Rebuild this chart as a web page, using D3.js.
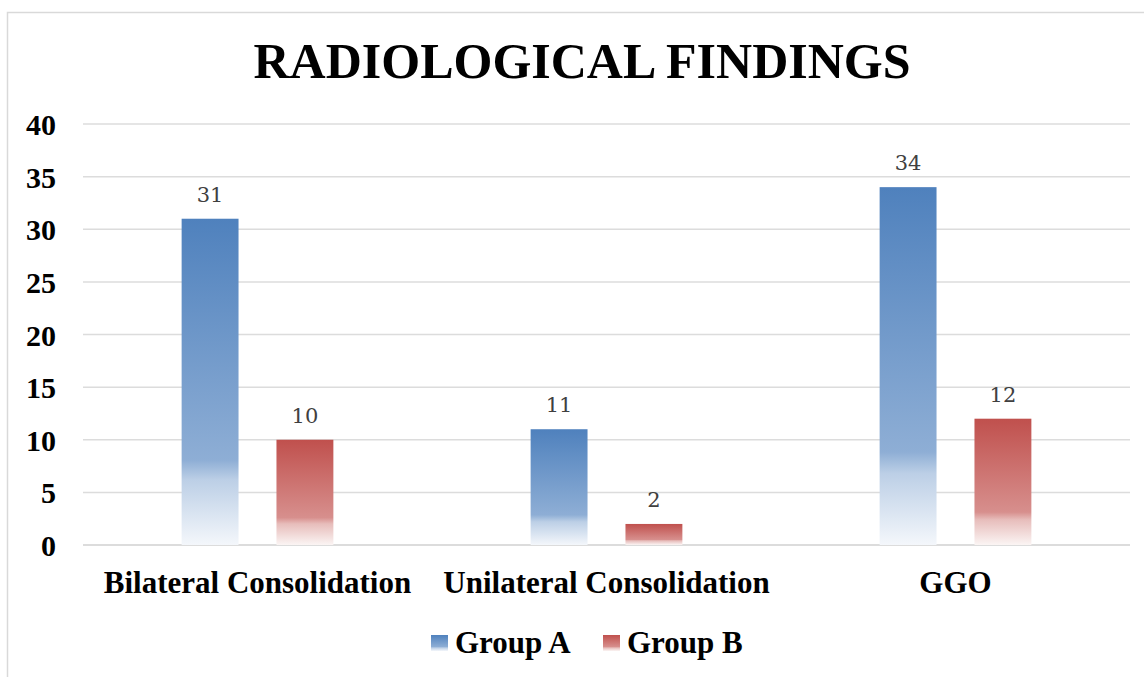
<!DOCTYPE html>
<html>
<head>
<meta charset="utf-8">
<script src="https://cdn.jsdelivr.net/npm/d3@7"></script>
<style>
  body { margin: 0; background: #fff; }
  svg { display: block; }
</style>
</head>
<body>
<svg id="chart" width="1144" height="677"></svg>
<script>
const categories = ['Bilateral Consolidation', 'Unilateral Consolidation', 'GGO']
const seriesNames = ['Group A', 'Group B']
const groupA = [31, 11, 34]
const groupB = [10, 2, 12]
const yTicks = [0, 5, 10, 15, 20, 25, 30, 35, 40]
const colors = ['#4f81bd', '#c0504d']

const width = 1144
const height = 677
const margin = { left: 83, right: 14, top: 124, bottom: 132 }

const svg = d3.select('#chart')

// gradients, one per series (fade to white at the bottom of each bar)
const defs = svg.append('defs')
const stopsFor = (c) => {
    const toWhite = d3.interpolateRgb(c, '#ffffff')
    return [
        { o: '0%', c: d3.color(c).formatHex() },
        { o: '74%', c: toWhite(0.36) },
        { o: '80%', c: toWhite(0.62) },
        { o: '100%', c: toWhite(0.94) }
    ]
}
colors.forEach((c, i) => {
    const g = defs.append('linearGradient').attr('id', 'grad' + i)
        .attr('x1', 0).attr('y1', 0).attr('x2', 0).attr('y2', 1)
    g.selectAll('stop').data(stopsFor(c)).enter().append('stop')
        .attr('offset', d => d.o).attr('stop-color', d => d.c)
})

// outer chart frame
svg.append('rect').attr('x', 7.5).attr('y', 12.5).attr('width', width + 20).attr('height', height + 20)
    .attr('fill', 'none').attr('stroke', '#d9d9d9').attr('stroke-width', 1.5)

svg.append('text').text('RADIOLOGICAL FINDINGS')
    .attr('x', 582).attr('y', 78).attr('text-anchor', 'middle')
    .attr('font-family', 'Liberation Serif').attr('font-weight', 'bold').attr('font-size', 50)

const x = d3.scaleBand().domain(categories).range([margin.left, width - margin.right])
const xInner = d3.scaleBand().domain(seriesNames).range([0, x.bandwidth()]).paddingInner(0.4).paddingOuter(1.04)
const y = d3.scaleLinear().domain([0, 40]).range([height - margin.bottom, margin.top])

// gridlines
svg.append('g').selectAll('line').data(yTicks).enter().append('line')
    .attr('x1', margin.left).attr('x2', width - margin.right)
    .attr('y1', d => y(d)).attr('y2', d => y(d))
    .attr('stroke', d => d === 0 ? '#d0d0d0' : '#dcdcdc').attr('stroke-width', 1.5)

// y axis labels
const yAxis = svg.append('g').attr('transform', `translate(${margin.left - 27},0)`)
    .call(d3.axisLeft(y).tickValues(yTicks).tickSize(0).tickPadding(0))
yAxis.select('.domain').remove()
yAxis.selectAll('text').attr('font-family', 'Liberation Serif').attr('font-weight', 'bold')
    .attr('font-size', 30).attr('fill', '#000').attr('dy', '0.35em')

// category labels
const xAxis = svg.append('g').attr('transform', `translate(0,${height - margin.bottom})`)
    .call(d3.axisBottom(x).tickSize(0).tickPadding(26))
xAxis.select('.domain').remove()
xAxis.selectAll('text').attr('font-family', 'Liberation Serif').attr('font-weight', 'bold')
    .attr('font-size', 31).attr('fill', '#000')

// bars
const rows = categories.map((c, i) => ({ cat: c, vals: [groupA[i], groupB[i]] }))
const groups = svg.append('g').selectAll('g').data(rows).enter().append('g')
    .attr('transform', d => `translate(${x(d.cat)},0)`)
groups.selectAll('rect').data(d => d.vals.map((v, i) => ({ s: seriesNames[i], v, i }))).enter().append('rect')
    .attr('x', d => xInner(d.s)).attr('width', xInner.bandwidth())
    .attr('y', d => y(d.v)).attr('height', d => y(0) - y(d.v))
    .attr('fill', d => `url(#grad${d.i})`)
groups.selectAll('text').data(d => d.vals.map((v, i) => ({ s: seriesNames[i], v }))).enter().append('text')
    .text(d => d.v)
    .attr('x', d => xInner(d.s) + xInner.bandwidth() / 2).attr('y', d => y(d.v) - 17)
    .attr('text-anchor', 'middle').attr('font-family', 'DejaVu Serif').attr('font-size', 21).attr('fill', '#404040')

// legend
const legendX = [431, 603]
const legend = svg.append('g').selectAll('g').data(seriesNames).enter().append('g')
    .attr('transform', (d, i) => `translate(${legendX[i]},635)`)
legend.append('rect').attr('width', 17).attr('height', 16).attr('fill', (d, i) => `url(#grad${i})`)
legend.append('text').text(d => d).attr('x', 24).attr('y', 18)
    .attr('font-family', 'Liberation Serif').attr('font-weight', 'bold').attr('font-size', 31)
</script>
</body>
</html>
